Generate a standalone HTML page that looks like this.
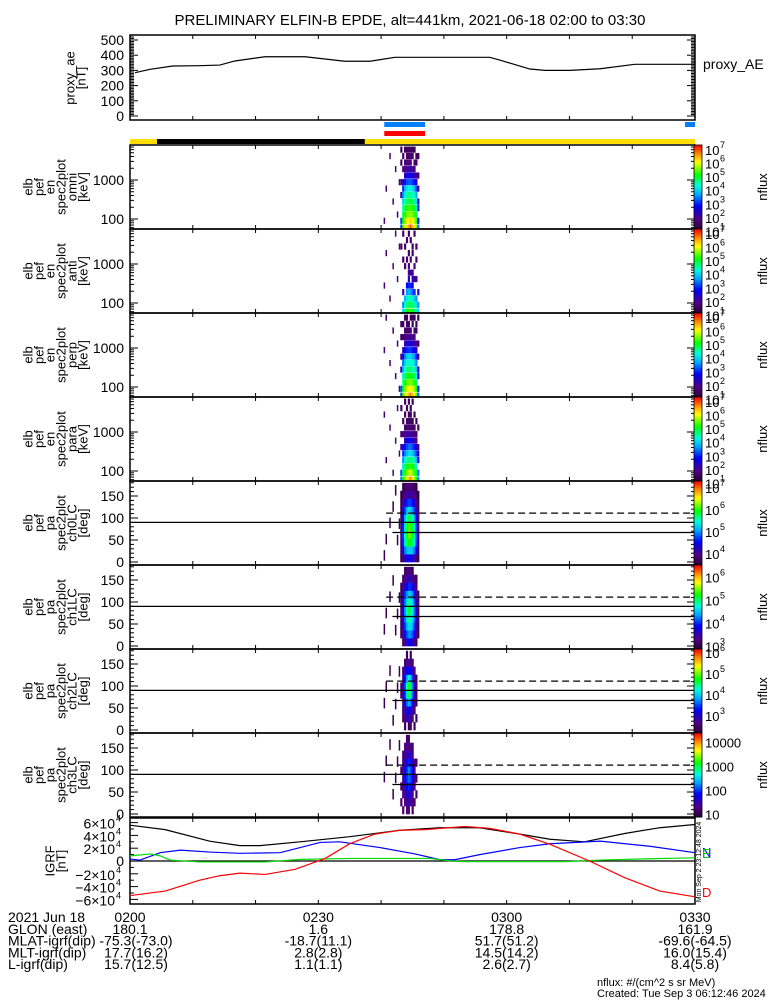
<!DOCTYPE html>
<html><head><meta charset="utf-8"><style>
html,body{margin:0;padding:0;background:#fff;}
svg{display:block;font-family:"Liberation Sans",sans-serif;}
text{fill:#000;}
</style></head><body>
<svg id="chart" width="775" height="1000" viewBox="0 0 775 1000" xmlns="http://www.w3.org/2000/svg">
<text x="410" y="25" font-size="15" text-anchor="middle">PRELIMINARY ELFIN-B EPDE, alt=441km, 2021-06-18 02:00 to 03:30</text>
<g id="g"></g>
</svg>
<script>
// ---------- data ----------
const aeMinutes = [0.8,3.2,6.8,11.1,14.3,16.7,21.5,27.9,34.2,38.2,42.2,47,57.3,58.9,63.7,66.1,70.1,74.9,80.4,90];
const aeValues  = [285,307,329,331,335,362,390,390,360,360,386,386,386,368,309,300,300,311,340,340];
const aeTicks = [0,100,200,300,400,500];

const igrfMinutes_T = [0,5.6,12.7,17.5,20.7,27.1,35,43,49.4,55.7,62.1,66.9,72.4,78.8,84.4,90];
const igrfTotal = [5.6,4.9,3.1,2.4,2.4,3.0,3.8,4.8,5.2,5.2,4.2,3.4,3.0,4.3,5.2,5.7];
const igrfMinutes_N = [0,1.6,4.8,8,12.7,17.5,23.9,30.3,33.4,39.8,45.4,49.4,51.7,55.7,62.1,66.9,74.9,82.8,90];
const igrfN = [0.3,0.15,1.3,1.7,1.4,1.2,1.3,2.9,3.0,2.1,1.1,0.2,0.2,1.0,2.1,2.7,3.1,2.3,1.3];
const igrfMinutes_E = [0,3.2,4.8,6.4,11.1,21.5,27.1,35,47.8,51,53.3,69.3,74.9,82.8,90];
const igrfE = [0.8,1.1,0.8,0.15,-0.15,-0.15,0.25,0.4,0.4,0,-0.1,-0.1,0.15,0.35,0.5];
const igrfMinutes_D = [0,5.6,11.1,14.3,17.5,21.5,26.3,31.1,35,39,43,47,53.3,57.3,62.1,66.9,73.2,78.8,84.4,90];
const igrfD = [-5.4,-4.7,-3.0,-2.3,-1.9,-2.1,-1.3,0.4,2.7,4.2,4.8,4.9,5.4,5.1,4.2,2.6,0,-2.6,-4.7,-5.6];
const igrfTicks = [6,4,2,0,-2,-4,-6];

const specMinutes = [43.2,43.5,43.8,44.1,44.4,44.7,45.0,45.3,45.6,45.9];
const energyBins = [60,90,130,190,280,410,600,880,1300,1900,2800,4100,6000];
const pitchBins = [9,27,45,63,81,99,117,135,153,171];

const omniFlux = [
[3.2,3.2,0,0,0,2.2,0,1.6,0,0,1.5,0,1.5],
[5.4,5.2,4.8,4.4,4,3.6,3,2.4,0,1.8,0,1.5,0],
[5.9,5.6,5.2,4.9,4.5,4.2,3.8,2.9,2.3,1.9,1.7,0,1.5],
[6.2,5.9,5.5,5.2,4.8,4.5,4.1,3.2,2.6,2,1.8,1.6,1.5],
[6.5,6.1,5.6,5.3,4.9,4.6,4.3,3.3,2.7,2.1,1.8,1.6,1.6],
[6.9,6.3,5.7,5.3,4.9,4.6,4.2,3.3,2.6,2.1,1.8,1.6,1.5],
[6.4,6,5.5,5.2,4.8,4.5,4.1,3.1,2.5,2,0,1.6,1.5],
[6.1,5.8,5.3,5,4.6,4.3,3.8,2.9,2.3,1.9,1.7,0,1.5],
[5.6,5.3,4.9,4.5,4.1,3.7,3.2,2.5,2,0,1.6,1.5,0],
[3.5,3,0,3,2.4,0,2,0,1.6,0,0,1.5,0]];
const antiFlux = [
[0,0,0,0,0,0,0,0,0,0,1.6,0,0],
[4,3.5,0,2.2,0,0,0,0,1.6,0,0,0,1.6],
[4.6,4.3,3.8,0,0,0,0,1.6,0,0,1.6,0,0],
[5,4.7,4.2,3.6,2.8,0,0,0,1.6,0,0,1.6,0],
[5.1,4.8,4.4,3.8,3,2.4,2,1.8,0,1.6,0,0,1.6],
[5.3,4.9,4.5,3.6,3,0,2.2,0,1.8,0,0,1.6,0],
[5,4.7,4.2,3.3,2.6,2.2,1.9,0,0,1.6,1.6,0,0],
[4.7,4.5,4,3,0,2.2,0,1.8,0,0,0,0,1.6],
[4.5,4.1,3.6,0,0,2,0,0,1.6,0,1.6,0,0],
[4,3.6,0,2.4,0,0,0,0,0,0,0,0,0]];
const perpFlux = [
[3.2,3.2,0,0,2.2,0,1.8,0,0,1.5,0,1.5,0],
[5.3,5,4.6,4.2,3.8,3.4,2.8,2.2,0,1.7,0,1.5,0],
[5.8,5.5,5.1,4.7,4.3,4,3.5,2.7,2.2,1.8,1.6,0,1.5],
[6.1,5.8,5.4,5,4.6,4.3,3.9,3,2.4,1.9,1.7,1.6,1.5],
[6.4,6,5.5,5.1,4.7,4.4,4,3.1,2.5,2,1.7,1.6,0],
[6.7,6.1,5.6,5.1,4.7,4.4,4,3.1,2.5,2,1.7,0,1.5],
[6.3,5.9,5.4,5,4.6,4.3,3.8,2.9,2.4,1.9,0,1.5,1.5],
[6,5.7,5.2,4.8,4.4,4.1,3.6,2.7,2.2,1.8,1.6,0,1.5],
[5.5,5.2,4.8,4.3,3.9,3.5,3,2.4,1.9,0,1.6,1.5,0],
[3.4,3,0,2.8,2.2,0,1.9,0,1.6,0,0,0,1.5]];
const paraFlux = [
[3.5,3.2,0,0,0,2,0,1.6,0,0,0,1.5,0],
[5,4.7,4.2,3.6,3,2.5,0,1.7,0,1.5,0,0,0],
[5.5,5.2,4.7,4.2,3.5,2.9,2.3,1.9,1.6,0,1.5,0,1.5],
[5.9,5.5,5,4.5,3.8,3.2,2.5,2,1.7,1.5,0,1.5,0],
[6.3,5.8,5.2,4.7,4.1,3.4,2.7,2.1,1.7,1.5,1.5,0,1.5],
[6.7,5.9,5.3,4.7,4.1,3.4,2.7,2.1,1.7,1.6,1.5,1.5,0],
[6.1,5.6,5.1,4.6,3.9,3.2,2.5,2,1.6,1.5,0,0,1.5],
[5.7,5.3,4.8,4.3,3.6,2.9,2.2,1.8,1.5,0,1.5,0,0],
[5.2,4.9,4.4,3.8,3.1,2.5,1.9,1.6,0,1.5,0,0,0],
[3.6,3.4,0,2.8,2.2,1.8,0,0,1.5,0,0,0,0]];
const pa0Flux = [
[3.6,3.8,4.2,4.4,4.4,4.4,4.3,4.1,3.8,3.6],
[3.8,4.3,4.9,5.1,5.2,5.2,5.1,4.9,4.4,3.8],
[3.8,4.6,5.3,5.7,5.9,5.9,5.7,5.4,4.7,4],
[3.9,4.7,5.4,5.9,6.2,6.1,5.9,5.5,4.8,4],
[3.8,4.6,5.3,5.8,6.1,6,5.8,5.4,4.7,3.9],
[3.7,4.4,5.1,5.5,5.8,5.7,5.5,5.1,4.5,3.8],
[3.6,4.2,4.7,5.1,5.3,5.2,5,4.7,4.2,3.7],
[3.6,3.9,4.3,4.6,4.7,4.7,4.5,4.3,3.9,3.6],
[3.5,3.7,3.9,4,4.1,4.1,4,3.9,3.7,3.5],
[0,3.6,3.7,3.8,3.8,3.8,3.8,3.7,3.6,0]];
const pa1Flux = [
[0,3.1,3.3,3.6,3.8,3.8,3.6,3.3,3.1,0],
[3,3.3,3.8,4.1,4.3,4.3,4.1,3.8,3.3,3],
[3,3.5,4,4.4,4.6,4.6,4.4,4,3.5,3],
[3.1,3.6,4.2,4.6,4.9,4.8,4.6,4.2,3.6,3.1],
[3.1,3.7,4.3,4.8,5.1,5,4.7,4.2,3.6,3.1],
[3.1,3.6,4.2,4.6,4.9,4.8,4.6,4.1,3.5,3.1],
[3,3.5,4,4.3,4.5,4.5,4.3,3.9,3.3,3],
[3,3.3,3.6,3.8,4,4,3.8,3.5,3.2,0],
[0,3.1,3.3,3.4,3.5,3.5,3.4,3.2,3,0],
[0,0,3.1,3.2,3.2,3.2,3.1,0,0,0]];
const pa2Flux = [
[0,0,2.4,0,2.4,2.5,0,2.4,0,0],
[0,2.4,2.6,2.8,2.9,2.8,2.6,0,2.4,0],
[0,2.5,2.8,3,3.2,3.1,2.8,2.5,0,0],
[0,2.6,3.1,3.6,3.9,3.7,3.2,2.7,2.4,0],
[2.4,2.8,3.4,4.1,4.6,4.3,3.6,2.9,2.5,0],
[2.4,2.8,3.5,4.3,4.8,4.5,3.7,3,2.5,0],
[0,2.7,3.2,3.8,4.2,4,3.4,2.8,2.4,0],
[0,2.5,2.9,3.2,3.3,3.2,2.9,2.6,0,0],
[0,0,2.5,2.7,2.7,2.7,2.5,0,0,0],
[0,0,0,2.4,0,2.4,0,0,0,0]];
const pa3Flux = [
[0,1.2,0,1.3,1.3,0,1.2,0,0,0],
[1.2,0,1.3,1.4,1.5,1.4,1.3,1.2,0,0],
[0,1.3,1.4,1.6,1.7,1.6,1.4,0,1.2,0],
[1.2,1.3,1.5,1.8,2,1.9,1.6,1.3,0,0],
[0,1.4,1.7,2,2.2,2.1,1.8,1.4,1.2,0],
[1.2,1.4,1.7,2,2.3,2.1,1.8,1.4,0,0],
[0,1.3,1.5,1.8,2,1.9,1.6,1.3,1.2,0],
[0,1.2,1.4,1.5,1.6,1.6,1.4,0,0,0],
[0,0,1.3,1.3,1.4,1.3,1.2,0,0,0],
[0,0,0,1.2,1.2,0,0,0,0,0]];
const scatterMinutes = [40.4,40.7,41.3,41.8,42.2,42.5,42.8];

// ---------- helpers ----------
const g = document.getElementById('g');
const NS = 'http://www.w3.org/2000/svg';
const X0 = 130, X1 = 695;
const xs = m => X0 + (X1 - X0) * m / 90;
function mk(tag, attrs, parent) {
  const e = document.createElementNS(NS, tag);
  for (const k in attrs) e.setAttribute(k, attrs[k]);
  (parent || g).appendChild(e);
  return e;
}
function txt(s, x, y, size, anchor, parent, color) {
  const t = mk('text', {x: x, y: y, 'font-size': size, 'text-anchor': anchor || 'start'}, parent);
  if (color) t.setAttribute('style', 'fill:' + color);
  t.textContent = s;
  return t;
}
const stops = [[0,[40,0,50]],[0.12,[80,0,130]],[0.28,[0,0,255]],[0.42,[0,170,255]],[0.52,[0,255,220]],[0.65,[0,255,0]],[0.8,[255,255,0]],[0.9,[255,140,0]],[1,[255,0,0]]];
function cmap(t) {
  t = Math.max(0, Math.min(1, t));
  for (let i = 1; i < stops.length; i++) {
    if (t <= stops[i][0]) {
      const a = stops[i-1], b = stops[i], f = (t - a[0]) / (b[0] - a[0]);
      const c = a[1].map((v, j) => Math.round(v + (b[1][j] - v) * f));
      return 'rgb(' + c.join(',') + ')';
    }
  }
  return 'rgb(255,0,0)';
}
function timeTicks(top, bot) {
  for (let m = 10; m < 90; m += 10) {
    mk('line', {x1: xs(m), x2: xs(m), y1: bot, y2: bot - 4, stroke: '#000'});
    mk('line', {x1: xs(m), x2: xs(m), y1: top, y2: top + 4, stroke: '#000'});
  }
}
function frame(name, top, bot) {
  const r = mk('rect', {x: X0, y: top, width: X1 - X0, height: bot - top, fill: 'none', stroke: '#000', 'stroke-width': 1.5});
  
  
}
function ylabel(lines, cx, cy, name) {
  const grp = mk('g', {transform: 'translate(' + cx + ',' + cy + ') rotate(-90)'});
  
  
  const n = lines.length;
  lines.forEach((s, i) => {
    txt(s, 0, (i - (n - 1) / 2) * 11 + 4, 13, 'middle', grp);
  });
}
function colorbar(top, bot, cmin, cmax, labels, name) {
  const cb = mk('g', {});
  
  
  const n = 40;
  for (let i = 0; i < n; i++) {
    const y = bot - (i + 1) * (bot - top) / n;
    mk('rect', {x: 694, y: y, width: 8, height: (bot - top) / n + 0.5, fill: cmap((i + 0.5) / n)}, cb);
  }
  mk('rect', {x: 694, y: top, width: 8, height: bot - top, fill: 'none', stroke: '#000', 'stroke-width': 0.8}, cb);
  labels.forEach(L => {
    const y = bot - (L - cmin) / (cmax - cmin) * (bot - top);
    if (y < top - 2 || y > bot + 2) return;
    if (cmax < 5) {
      txt(String(Math.pow(10, L)), 705, y + 5, 13, 'start', cb);
    } else {
      txt('10', 705, y + 6, 13, 'start', cb);
      txt(String(L), 720, y - 1, 9, 'start', cb);
    }
  });
  const gl = mk('g', {transform: 'translate(' + 767 + ',' + ((top + bot) / 2) + ') rotate(-90)'}, cb);
  txt('nflux', 0, 0, 13, 'middle', gl);
}

// ---------- top AE panel ----------
const aeY = v => 116 - v * 76 / 500;
frame('proxy-ae-panel', 35, 120);
aeTicks.forEach(v => {
  txt(String(v), 124, aeY(v) + 5, 14, 'end');
});
for (let v = 0; v <= 520; v += 10) {
  const len = v % 100 === 0 ? 8 : 4;
  if (aeY(v) < 35) break;
  mk('line', {x1: X0, x2: X0 + len, y1: aeY(v), y2: aeY(v), stroke: '#000'});
  mk('line', {x1: X1, x2: X1 - len, y1: aeY(v), y2: aeY(v), stroke: '#000'});
}
timeTicks(35, 120);
const aeLine = mk('polyline', {points: aeMinutes.map((m, i) => xs(m) + ',' + aeY(aeValues[i])).join(' '), fill: 'none', stroke: '#000', 'stroke-width': 1.2});


ylabel(['proxy_ae', '[nT]'], 76, 78, 'proxy-ae-axis-title');
const aeLeg = txt('proxy_AE', 703, 69, 14, 'start');



// ---------- status bars ----------
let b = mk('rect', {x: xs(40.5), y: 122, width: xs(47) - xs(40.5), height: 5, fill: '#0080ff'});


b = mk('rect', {x: xs(88.4), y: 122, width: xs(90) - xs(88.4), height: 5, fill: '#0080ff'});


b = mk('rect', {x: xs(40.5), y: 131, width: xs(47) - xs(40.5), height: 5, fill: '#ff0000'});


b = mk('rect', {x: X0, y: 139, width: X1 - X0, height: 5, fill: '#ffdd00'});


b = mk('rect', {x: xs(4.3), y: 139, width: xs(37.4) - xs(4.3), height: 5, fill: '#000'});



// ---------- energy spectrogram panels ----------
const PT = [145, 229, 313, 397, 481, 565, 649, 733, 817];
const energyPanels = [
  {flux: omniFlux, lab: 'omni', name: 'omni'},
  {flux: antiFlux, lab: 'anti', name: 'anti'},
  {flux: perpFlux, lab: 'perp', name: 'perp'},
  {flux: paraFlux, lab: 'para', name: 'para'}];
const colStep = 0.3;
energyPanels.forEach((p, k) => {
  const top = PT[k], bot = PT[k + 1];
  const eY = e => top + 35 + (3 - Math.log10(e)) * 39;
  const cmin = 1.1, cmax = 7.3;
  const grp = mk('g', {});
  
  
  p.flux.forEach((col, ci) => {
    const m = specMinutes[ci];
    col.forEach((v, ri) => {
      if (!v) return;
      const e = energyBins[ri];
      const y1 = Math.max(top, eY(e * 1.2)), y2 = Math.min(bot, eY(e / 1.2));
      mk('rect', {x: xs(m - colStep / 2), y: y1, width: xs(m + colStep / 2) - xs(m - colStep / 2) + 0.3, height: y2 - y1, fill: cmap((v - cmin) / (cmax - cmin))}, grp);
    });
  });
  scatterMinutes.forEach((m, si) => {
    const ri = (si * 5 + k * 3) % 12 + 1;
    const e = energyBins[ri];
    mk('rect', {x: xs(m), y: eY(e * 1.2), width: 1.5, height: eY(e / 1.2) - eY(e * 1.2), fill: cmap(0.1)}, grp);
  });
  frame('energy-panel-' + p.name, top, bot);
  [100, 1000].forEach(v => txt(String(v), 124, eY(v) + 5, 14, 'end'));
  for (let d = 10; d <= 1000; d *= 10) {
    for (let j = 1; j < 10; j++) {
      const y = eY(d * j);
      if (y < top || y > bot) continue;
      const len = j === 1 ? 8 : 4;
      mk('line', {x1: X0, x2: X0 + len, y1: y, y2: y, stroke: '#000'});
      mk('line', {x1: X1, x2: X1 - len, y1: y, y2: y, stroke: '#000'});
    }
  }
  timeTicks(top, bot);
  ylabel(['elb', 'pef', 'en', 'spec2plot', p.lab, '[keV]'], 56, (top + bot) / 2, 'energy-axis-title-' + p.name);
  colorbar(top, bot, cmin, cmax, [7, 6, 5, 4, 3, 2, 1], 'colorbar-' + p.name);
});

// ---------- pitch angle panels ----------
const paPanels = [
  {flux: pa0Flux, lab: 'ch0LC', cmin: 3.45, cmax: 7.27, labs: [7, 6, 5, 4]},
  {flux: pa1Flux, lab: 'ch1LC', cmin: 2.85, cmax: 6.5, labs: [6, 5, 4, 3]},
  {flux: pa2Flux, lab: 'ch2LC', cmin: 2.15, cmax: 6.15, labs: [6, 5, 4, 3, 2]},
  {flux: pa3Flux, lab: 'ch3LC', cmin: 0.9, cmax: 4.4, labs: [4, 3, 2, 1]}];
paPanels.forEach((p, k) => {
  const top = PT[4 + k], bot = PT[5 + k];
  const pY = d => bot - 3 - d * 0.44;
  const grp = mk('g', {});
  
  
  p.flux.forEach((row, ri) => {
    const d = pitchBins[ri];
    row.forEach((v, ci) => {
      if (!v) return;
      const m = specMinutes[ci];
      mk('rect', {x: xs(m - colStep / 2), y: pY(d + 9), width: xs(m + colStep / 2) - xs(m - colStep / 2) + 0.3, height: 18 * 0.44 + 0.3, fill: cmap((v - p.cmin) / (p.cmax - p.cmin))}, grp);
    });
  });
  scatterMinutes.forEach((m, si) => {
    const d = ((si * 37 + k * 23) % 150) + 15;
    mk('rect', {x: xs(m), y: pY(d + 12), width: 1.5, height: 24 * 0.44, fill: cmap(0.05)}, grp);
  });
  frame('pitch-panel-' + p.lab, top, bot);
  [0, 50, 100, 150].forEach(v => txt(String(v), 124, pY(v) + 5, 14, 'end'));
  for (let v = 0; v <= 180; v += 10) {
    const len = v % 50 === 0 ? 8 : 4;
    mk('line', {x1: X0, x2: X0 + len, y1: pY(v), y2: pY(v), stroke: '#000'});
    mk('line', {x1: X1, x2: X1 - len, y1: pY(v), y2: pY(v), stroke: '#000'});
  }
  timeTicks(top, bot);
  let l = mk('line', {x1: X0, x2: X1, y1: pY(90), y2: pY(90), stroke: '#000', 'stroke-width': 1.3});
  
  
  l = mk('line', {x1: xs(40.8), x2: X1, y1: pY(111), y2: pY(111), stroke: '#000', 'stroke-width': 1.3, 'stroke-dasharray': '7,4'});
  
  
  l = mk('line', {x1: xs(41.8), x2: X1, y1: pY(67), y2: pY(67), stroke: '#000', 'stroke-width': 1.3});
  
  
  ylabel(['elb', 'pef', 'pa', 'spec2plot', p.lab, '[deg]'], 56, (top + bot) / 2, 'pitch-axis-title-' + p.lab);
  colorbar(top, bot, p.cmin, p.cmax, p.labs, 'colorbar-' + p.lab);
});

// ---------- IGRF panel ----------
const iT = 818, iB = 904;
const iY = v => 861 - v * 6.4;
frame('igrf-panel', iT, iB);
igrfTicks.forEach(v => {
  const y = iY(v);
  if (v === 0) { txt('0', 124, y + 5, 14, 'end'); }
  else {
    txt((v < 0 ? '\u2212' : '') + Math.abs(v) + '\u00d710', 115, y + 6, 14, 'end');
    txt('4', 116, y - 1, 9, 'start');
  }
});
for (let v = -6; v <= 6; v += 1) {
  const len = v % 2 === 0 ? 8 : 4;
  mk('line', {x1: X0, x2: X0 + len, y1: iY(v), y2: iY(v), stroke: '#000'});
}
timeTicks(iT, iB);
mk('line', {x1: X0, x2: X1, y1: iY(0), y2: iY(0), stroke: '#000', 'stroke-width': 1.3});
const series = [
  {mins: igrfMinutes_T, vals: igrfTotal, color: '#000', name: 'igrf-total-line'},
  {mins: igrfMinutes_N, vals: igrfN, color: '#0000ff', name: 'igrf-n-line'},
  {mins: igrfMinutes_E, vals: igrfE, color: '#00dd00', name: 'igrf-e-line'},
  {mins: igrfMinutes_D, vals: igrfD, color: '#ff0000', name: 'igrf-d-line'}];
series.forEach(s => {
  const pl = mk('polyline', {points: s.mins.map((m, i) => xs(m) + ',' + iY(s.vals[i])).join(' '), fill: 'none', stroke: s.color, 'stroke-width': 1.2});
  
  
});
ylabel(['IGRF', '[nT]'], 56, 861, 'igrf-axis-title');
let lg = txt('N', 702, 857, 13, 'start', null, '#0000ff');


lg = txt('E', 702, 858, 13, 'start', null, '#00cc00');


lg = txt('D', 702, 897, 13, 'start', null, '#ff0000');


const stamp = mk('g', {transform: 'translate(701,862) rotate(-90)'});


txt('Mon Sep  2 23:12:48 2024', 0, 0, 7, 'middle', stamp);

// ---------- footer ----------
const footRows = [
  ['2021 Jun 18', '0200', '0230', '0300', '0330'],
  ['GLON (east)', '180.1', '1.6', '178.8', '161.9'],
  ['MLAT-igrf(dip)', '-75.3(-73.0)', '-18.7(11.1)', '51.7(51.2)', '-69.6(-64.5)'],
  ['MLT-igrf(dip)', '17.7(16.2)', '2.8(2.8)', '14.5(14.2)', '16.0(15.4)'],
  ['L-igrf(dip)', '15.7(12.5)', '1.1(1.1)', '2.6(2.7)', '8.4(5.8)']];
const footMin = [0, 30, 60, 90];
const ft = mk('g', {});


footRows.forEach((r, i) => {
  const y = 922 + i * 11.8;
  txt(r[0], 8, y, 14, 'start', ft);
  footMin.forEach((m, j) => txt(r[j + 1], xs(m) + (j === 0 && i > 1 ? 6 : 0), y, 14, 'middle', ft));
});
const n1 = txt('nflux: #/(cm^2 s sr MeV)', 597, 986, 11, 'start');


const n2 = txt('Created: Tue Sep  3 06:12:46 2024', 597, 997, 11, 'start');


</script>
</body></html>
